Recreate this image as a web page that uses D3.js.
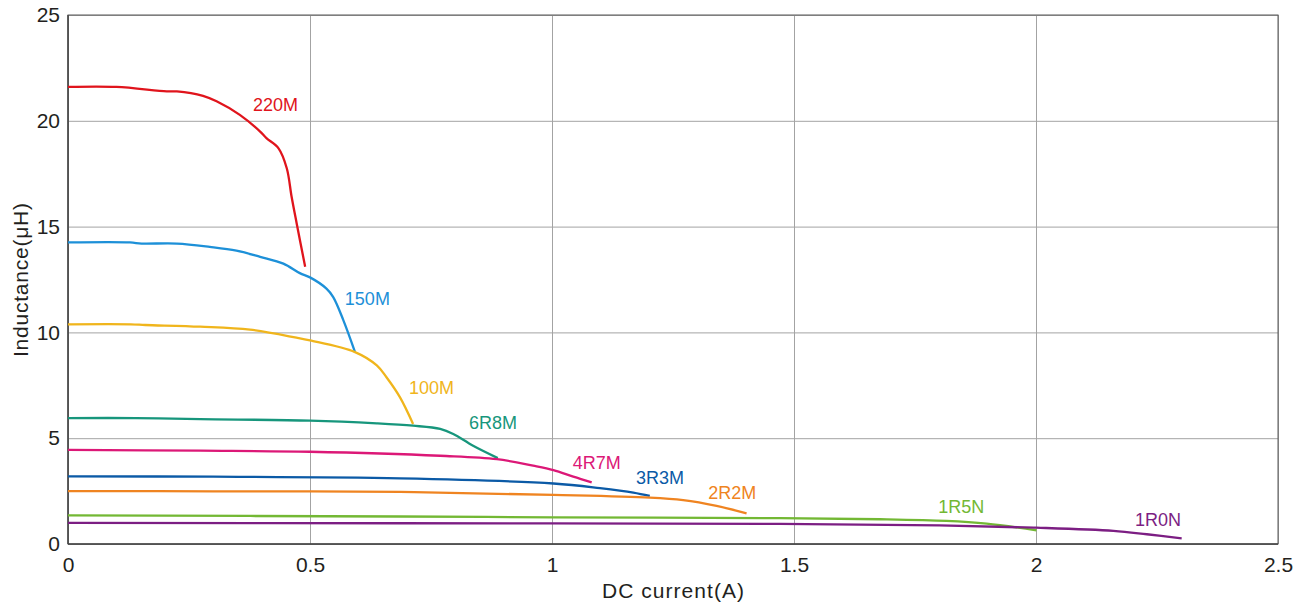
<!DOCTYPE html>
<html><head><meta charset="utf-8">
<script src="https://cdn.jsdelivr.net/npm/d3@7"></script>
<style>body{margin:0;background:#fff;} text{font-family:"Liberation Sans",Arial,sans-serif;}</style>
</head><body><svg id="c" width="1304" height="607"></svg>
<script>
const names = ["220M","150M","100M","6R8M","4R7M","3R3M","2R2M","1R5N","1R0N"];
const colors = ["#e0141c","#1d90d8","#f0b51c","#17967c","#dc1877","#0b5aa6","#ef8421","#73b834","#7c1e83"];
const s220M = [[0,21.6],[0.1,21.6],[0.204,21.39],[0.225,21.39],[0.279,21.18],[0.307,20.92],[0.355,20.28],[0.397,19.49],[0.41,19.18],[0.435,18.7],[0.452,17.76],[0.462,16.41],[0.4725,15.15],[0.49,13.1]];
const s150M = [[0,14.25],[0.128,14.25],[0.152,14.2],[0.225,14.2],[0.293,14.04],[0.348,13.86],[0.397,13.57],[0.445,13.25],[0.479,12.8],[0.5,12.6],[0.534,12.07],[0.548,11.67],[0.569,10.57],[0.593,9.07]];
const s100M = [[0,10.38],[0.13,10.38],[0.16,10.35],[0.273,10.27],[0.376,10.13],[0.472,9.75],[0.5,9.62],[0.593,9.07],[0.638,8.44],[0.658,7.88],[0.686,6.93],[0.713,5.67]];
const s6R8M = [[0,5.95],[0.14,5.95],[0.273,5.9],[0.5,5.83],[0.638,5.7],[0.713,5.59],[0.769,5.44],[0.796,5.2],[0.837,4.64],[0.888,4.06]];
const s4R7M = [[0,4.45],[0.273,4.41],[0.5,4.36],[0.769,4.17],[0.886,4.01],[0.961,3.7],[1.003,3.49],[1.044,3.18],[1.082,2.91]];
const s3R3M = [[0,3.2],[0.3,3.18],[0.686,3.1],[1.003,2.86],[1.099,2.64],[1.168,2.43],[1.202,2.27]];
const s2R2M = [[0,2.5],[0.3,2.49],[0.686,2.46],[1.003,2.32],[1.202,2.19],[1.271,2.07],[1.34,1.8],[1.402,1.45]];
const s1R5N = [[0,1.35],[0.686,1.3],[1.003,1.26],[1.471,1.22],[1.678,1.17],[1.815,1.09],[1.898,0.96],[2.001,0.65]];
const s1R0N = [[0,1.0],[0.686,0.98],[1.471,0.95],[1.8,0.88],[2.001,0.77],[2.16,0.62],[2.229,0.46],[2.301,0.27]];
const series = [s220M,s150M,s100M,s6R8M,s4R7M,s3R3M,s2R2M,s1R5N,s1R0N];
const labelX = [0.382,0.572,0.7045,0.8285,1.043,1.1736,1.323,1.798,2.2045];
const labelY = [20.76,11.61,7.40,5.73,3.84,3.13,2.42,1.75,1.14];
const xTicks = [0,0.5,1,1.5,2,2.5];
const yTicks = [0,5,10,15,20,25];

const W=1304,H=607,m={l:68,r:26,t:15,b:63};
const FONT="Liberation Sans, Arial, sans-serif";
const svg=d3.select("#c");
const x=d3.scaleLinear().domain([0,2.5]).range([m.l,W-m.r]);
const y=d3.scaleLinear().domain([0,25]).range([H-m.b,m.t]);

// grid
svg.append("g").attr("transform",`translate(0,${H-m.b})`)
 .call(d3.axisBottom(x).tickValues(xTicks).tickSize(-(H-m.t-m.b)).tickFormat(""))
 .call(g=>{g.select(".domain").remove();g.selectAll("line").attr("stroke","#a3a3a3").attr("stroke-width",1);});
svg.append("g").attr("transform",`translate(${m.l},0)`)
 .call(d3.axisLeft(y).tickValues(yTicks).tickSize(-(W-m.l-m.r)).tickFormat(""))
 .call(g=>{g.select(".domain").remove();g.selectAll("line").attr("stroke","#a3a3a3").attr("stroke-width",1);});
// frame
svg.append("rect").attr("x",m.l).attr("y",m.t).attr("width",W-m.l-m.r).attr("height",H-m.t-m.b)
 .attr("fill","none").attr("stroke","#5a5a5a").attr("stroke-width",1);
svg.append("line").attr("x1",m.l).attr("x2",W-m.r).attr("y1",H-m.b).attr("y2",H-m.b).attr("stroke","#444").attr("stroke-width",1.5);
svg.append("line").attr("x1",m.l).attr("x2",m.l).attr("y1",m.t).attr("y2",H-m.b).attr("stroke","#444").attr("stroke-width",1.5);

// tick labels
const xa=svg.append("g").attr("transform",`translate(0,${H-m.b})`)
 .call(d3.axisBottom(x).tickValues(xTicks).tickSize(0).tickPadding(13).tickFormat(d3.format("")));
xa.select(".domain").remove();
xa.selectAll("text").attr("font-size",21).attr("fill","#231f20").attr("font-family",FONT);
const ya=svg.append("g").attr("transform",`translate(${m.l},0)`)
 .call(d3.axisLeft(y).tickValues(yTicks).tickSize(0).tickPadding(8).tickFormat(d3.format("")));
ya.select(".domain").remove();
ya.selectAll("text").attr("font-size",21).attr("fill","#231f20").attr("font-family",FONT);

// lines
const line=d3.line().x(d=>x(d[0])).y(d=>y(d[1])).curve(d3.curveCatmullRom.alpha(0.5));
series.forEach((s,i)=>{
 svg.append("path").datum(s).attr("d",line).attr("fill","none").attr("stroke",colors[i]).attr("stroke-width",2.3).attr("stroke-linejoin","round");
});
names.forEach((n,i)=>{
 svg.append("text").attr("x",x(labelX[i])).attr("y",y(labelY[i])).attr("dy","0.35em")
  .attr("font-size",18).attr("fill",colors[i]).text(n);
});

// titles
svg.append("text").attr("x",(m.l+W-m.r)/2).attr("y",598).attr("text-anchor","middle")
 .attr("font-size",21).attr("fill","#231f20").attr("textLength",142).attr("lengthAdjust","spacing").text("DC current(A)");
svg.append("text").attr("transform",`translate(28,280) rotate(-90)`).attr("text-anchor","middle")
 .attr("font-size",21).attr("fill","#231f20").attr("textLength",154).attr("lengthAdjust","spacing").text("Inductance(μH)");
</script></body></html>
